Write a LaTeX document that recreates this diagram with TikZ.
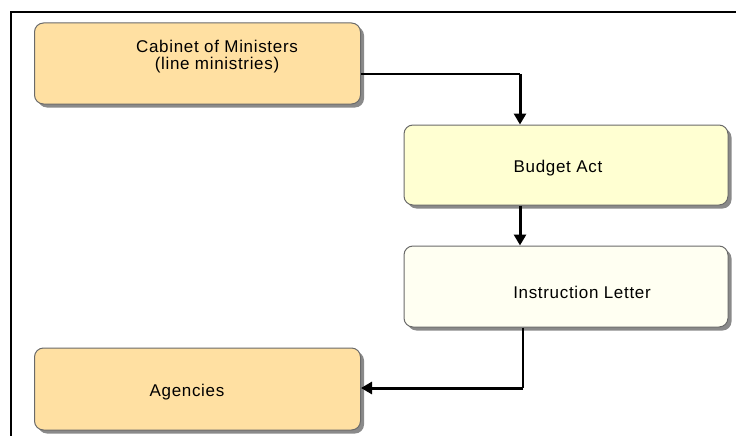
\documentclass[tikz,border=0pt]{standalone}
\usepackage{fontspec}
\setmainfont{Liberation Sans}[LetterSpace=4]
\usetikzlibrary{arrows.meta,shadows}

\definecolor{orangefill}{HTML}{FFE0A2}
\definecolor{yellowfill}{HTML}{FFFFD2}
\definecolor{palefill}{HTML}{FFFFF2}
\definecolor{edgegray}{HTML}{6A6A6A}
\definecolor{shadowgray}{HTML}{8A8A8A}

\tikzset{
  card/.style={draw=edgegray, line width=1pt, rounded corners=9pt,
    minimum width=326pt, minimum height=81pt, inner sep=0pt,
    drop shadow={shadow xshift=3.5pt, shadow yshift=-3.5pt, fill=shadowgray, opacity=1}},
  caption/.style={font=\fontsize{17}{17.5}\selectfont, align=center, inner sep=0pt},
  thinline/.style={line width=1.3pt},
  thickline/.style={line width=3pt, -{Triangle[length=11pt,width=12pt]}},
  frame/.style={line width=2pt}
}

\begin{document}
\begin{tikzpicture}[x=1pt,y=-1pt]
  \useasboundingbox (0,0) rectangle (736,436);

  % outer frame (runs off the right and bottom edges)
  \draw[frame] (11,436) -- (11,12) -- (737,12);

  % boxes
  \node[card, fill=orangefill] (cab) at (197.5,63.5) {};
  \node[card, fill=yellowfill, minimum width=324pt, minimum height=80pt] (bud) at (566,165) {};
  \node[card, fill=palefill, minimum width=324pt] (ins) at (566,286.5) {};
  \node[card, fill=orangefill, minimum height=82pt] (age) at (197.5,389) {};

  % captions
  \node[caption] (cabT) at (217,56.5) {Cabinet of Ministers\\(line ministries)};
  \node[caption] (budT) at (558,168) {Budget Act};
  \node[caption] (insT) at (582,292) {Instruction Letter};
  \node[caption] (ageT) at (187,392) {Agencies};

  % connectors
  \coordinate (c1) at (520,74);
  \coordinate (c2) at (523,388);
  \draw[thinline] (cab.east |- c1) -- (c1);
  \draw[thickline] (c1) -- (bud.north -| c1);
  \draw[thickline] (bud.south -| c1) -- (ins.north -| c1);
  \draw[thinline] (ins.south -| c2) -- (c2);
  \draw[thickline] (c2) -- (age.east |- c2);
\end{tikzpicture}
\end{document}
